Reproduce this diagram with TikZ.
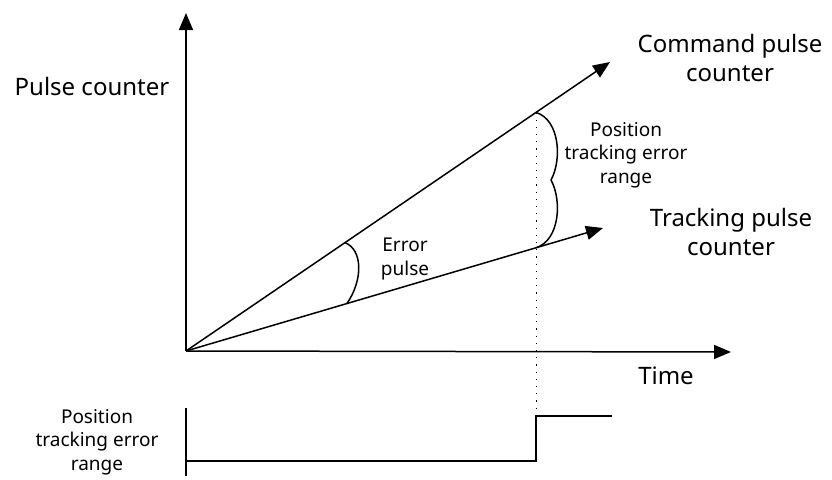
\documentclass[tikz,border=0pt]{standalone}
\usepackage{fontspec}
\setmainfont{Noto Sans}
\usepackage{tikz}
\usetikzlibrary{arrows.meta, calc}

\begin{document}
\begin{tikzpicture}[
        x=1pt, y=-1pt,
        axis/.style={-{Triangle[length=17pt, width=14pt]}, line width=1.5pt},
        curve/.style={line width=1.5pt},
        lbl/.style={align=center, font=\fontsize{24}{29}\selectfont},
        note/.style={align=center, font=\fontsize{19}{23.5}\selectfont}
    ]
    \useasboundingbox (0,0) rectangle (832,479);

    % Points
    \coordinate (o) at (186,351);
    \coordinate (ytip) at (186,13);
    \coordinate (xtip) at (731,352);
    \coordinate (cmdtip) at (610,62);
    \coordinate (trktip) at (603,228);
    \coordinate (cmdhit) at (536,112.4);
    \coordinate (trkhit) at (536,247.8);
    \coordinate (cusp) at (551,180);
    \coordinate (errtop) at (345,242.6);
    \coordinate (errbot) at (347,303.5);
    \coordinate (dotend) at (536,412);

    % Axes
    \draw[axis] (o) -- (ytip);
    \draw[axis] (o) -- (xtip);

    % Counters
    \draw[axis] (o) -- (cmdtip);
    \draw[axis] (o) -- (trktip);

    % Error pulse and range
    \draw[curve] (errtop) .. controls (363,250) and (363,280) .. (errbot);
    \draw[curve] (cmdhit) .. controls (560,120) and (562,160) .. (cusp);
    \draw[curve] (cusp) .. controls (562,200) and (560,240) .. (trkhit);
    \draw[line width=1pt, dash pattern=on 1.2pt off 6pt] (cmdhit) -- (dotend);

    % Labels
    \node[lbl] (pulse) at (92,86) {Pulse counter};
    \node[lbl] (cmd) at (730,58) {Command pulse\\counter};
    \node[lbl] (trk) at (731,232) {Tracking pulse\\counter};
    \node[lbl] (time) at (666,376) {Time};
    \node[note] (range) at (626,155) {Position\\tracking error\\range};
    \node[note] (err) at (405,259) {Error\\pulse};

    % Range signal
    \coordinate (sigtop) at (186,408);
    \coordinate (sigbot) at (186,476);
    \coordinate (low) at (186,461);
    \coordinate (steplow) at (536,461);
    \coordinate (stephigh) at (536,416);
    \coordinate (high) at (612,416);
    \draw[curve] (sigtop) -- (sigbot);
    \draw[curve] (low) -- (steplow) -- (stephigh) -- (high);
    \node[note] (sig) at (97,442) {Position\\tracking error\\range};

\end{tikzpicture}
\end{document}
